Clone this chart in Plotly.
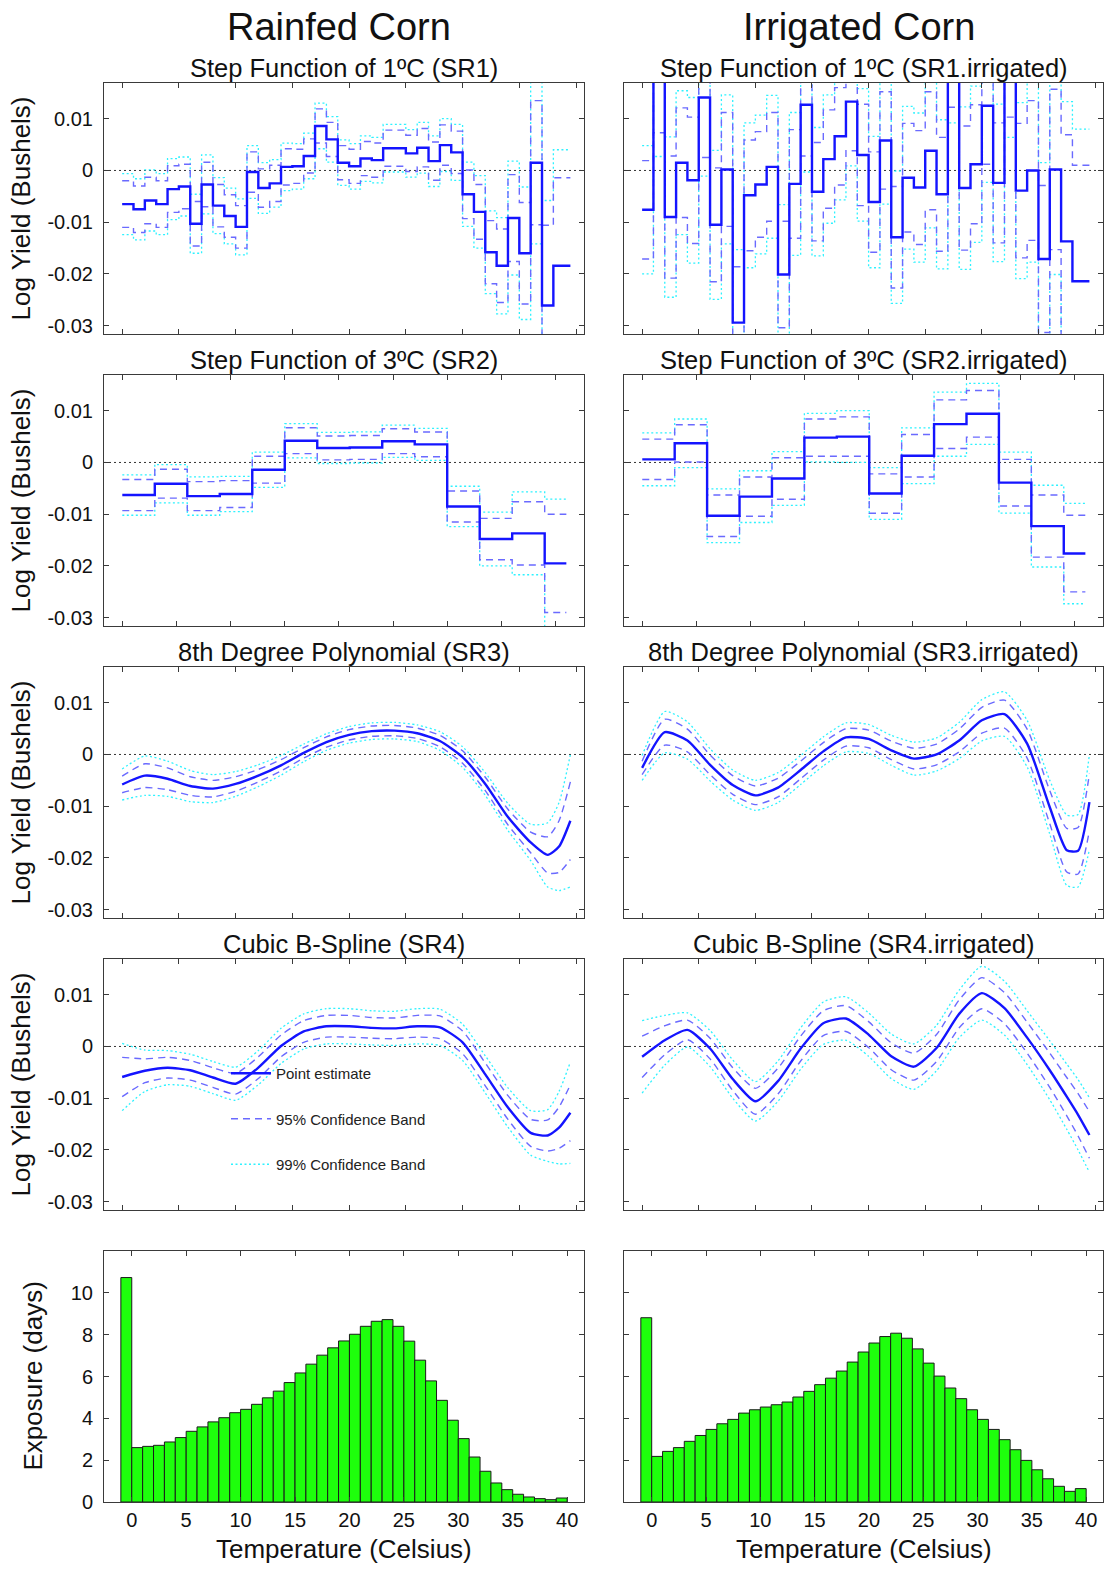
import plotly.graph_objects as go

W, H = 1110, 1570

# ---------------------------------------------------------------------------
# Data
# ---------------------------------------------------------------------------
# 1 degree step function (SR1): bin edges and estimates
step1_edges = [*range(39), 39.5]
sr1_rain = [-0.0065, -0.0075, -0.0058, -0.0065, -0.0036, -0.0031, -0.0103, -0.0027, -0.0068, -0.0088,
            -0.0109, -0.0003, -0.0034, -0.0025, 0.0007, 0.0008, 0.0028, 0.0086, 0.0060, 0.0015,
            0.0008, 0.0023, 0.0020, 0.0043, 0.0043, 0.0033, 0.0044, 0.0018, 0.0049, 0.0035,
            -0.0046, -0.0080, -0.0158, -0.0184, -0.0092, -0.0160, 0.0015, -0.0261, -0.0184]
sr1_rain_ci95 = [0.0045, 0.0045, 0.0045, 0.0045, 0.0045, 0.0043, 0.0043, 0.0043, 0.0041, 0.0041,
                 0.0041, 0.0039, 0.0037, 0.0035, 0.0035, 0.0033, 0.0033, 0.0033, 0.0033, 0.0033,
                 0.0033, 0.0033, 0.0033, 0.0035, 0.0035, 0.0035, 0.0037, 0.0037, 0.0039, 0.0041,
                 0.0047, 0.0053, 0.0061, 0.0071, 0.0084, 0.0098, 0.0120, 0.0155, 0.0170]
sr1_rain_ci99 = [0.0059, 0.0059, 0.0059, 0.0059, 0.0059, 0.0057, 0.0057, 0.0057, 0.0054, 0.0054,
                 0.0054, 0.0051, 0.0049, 0.0046, 0.0046, 0.0044, 0.0044, 0.0044, 0.0044, 0.0044,
                 0.0044, 0.0044, 0.0044, 0.0046, 0.0046, 0.0046, 0.0049, 0.0049, 0.0051, 0.0054,
                 0.0062, 0.0070, 0.0080, 0.0093, 0.0110, 0.0128, 0.0157, 0.0203, 0.0224]

sr1_irr = [-0.0076, 0.0220, -0.0090, 0.0015, -0.0019, 0.0141, -0.0105, 0.0002, -0.0294, -0.0048,
           -0.0027, 0.0007, -0.0201, -0.0026, 0.0127, -0.0041, 0.0022, 0.0066, 0.0133, 0.0030,
           -0.0061, 0.0058, -0.0129, -0.0014, -0.0033, 0.0038, -0.0046, 0.0220, -0.0034, 0.0012,
           0.0125, -0.0024, 0.0230, -0.0039, 0.0000, -0.0171, 0.0002, -0.0137, -0.0214]
sr1_irr_ci95 = [0.0095, 0.0147, 0.0118, 0.0106, 0.0122, 0.0116, 0.0110, 0.0110, 0.0108, 0.0107,
                0.0102, 0.0105, 0.0103, 0.0105, 0.0099, 0.0095, 0.0095, 0.0094, 0.0095, 0.0098,
                0.0097, 0.0094, 0.0098, 0.0105, 0.0110, 0.0114, 0.0110, 0.0098, 0.0120, 0.0115,
                0.0113, 0.0116, 0.0127, 0.0130, 0.0135, 0.0142, 0.0155, 0.0206, 0.0224]
sr1_irr_ci99 = [0.0124, 0.0193, 0.0155, 0.0139, 0.0160, 0.0152, 0.0144, 0.0144, 0.0141, 0.0140,
                0.0134, 0.0138, 0.0135, 0.0138, 0.0130, 0.0124, 0.0124, 0.0123, 0.0124, 0.0128,
                0.0127, 0.0123, 0.0128, 0.0138, 0.0144, 0.0149, 0.0144, 0.0128, 0.0157, 0.0151,
                0.0148, 0.0152, 0.0166, 0.0170, 0.0177, 0.0186, 0.0203, 0.0270, 0.0294]

# 3 degree step function (SR2)
step3_edges = [0, 3, 6, 9, 12, 15, 18, 21, 24, 27, 30, 33, 36, 39, 41]
sr2_rain = [-0.0063, -0.0041, -0.0065, -0.0061, -0.0014, 0.0042, 0.0028, 0.0029, 0.0041, 0.0035,
            -0.0085, -0.0148, -0.0137, -0.0195]
sr2_rain_ci95 = [0.0030, 0.0028, 0.0028, 0.0026, 0.0026, 0.0025, 0.0023, 0.0023, 0.0024, 0.0024,
                 0.0030, 0.0040, 0.0061, 0.0095]
sr2_rain_ci99 = [0.0039, 0.0037, 0.0037, 0.0034, 0.0034, 0.0033, 0.0030, 0.0030, 0.0031, 0.0031,
                 0.0039, 0.0052, 0.0080, 0.0124]
sr2_irr = [0.0006, 0.0037, -0.0103, -0.0066, -0.0031, 0.0048, 0.0050, -0.0060, 0.0013, 0.0074,
           0.0094, -0.0039, -0.0123, -0.0176]
sr2_irr_ci95 = [0.0039, 0.0036, 0.0040, 0.0038, 0.0040, 0.0036, 0.0038, 0.0038, 0.0041, 0.0047,
                0.0045, 0.0045, 0.0060, 0.0074]
sr2_irr_ci99 = [0.0051, 0.0047, 0.0052, 0.0050, 0.0052, 0.0047, 0.0050, 0.0050, 0.0054, 0.0062,
                0.0059, 0.0059, 0.0079, 0.0097]

# Smooth fits (SR3 polynomial, SR4 B-spline) evaluated on a temperature grid
temp_grid = [0, 2, 4, 6, 8, 10, 12, 14, 16, 18, 20, 22, 24, 26, 28, 30, 32, 34, 36, 37.5, 38.5, 39.5]

sr3_rain = [-0.0058, -0.0041, -0.0047, -0.0061, -0.0066, -0.0057, -0.0041, -0.0021, 0.0003, 0.0024,
            0.0038, 0.0045, 0.0046, 0.0041, 0.0026, -0.0005, -0.0057, -0.0121, -0.0170, -0.0194,
            -0.0178, -0.0128]
sr3_rain_ci95 = [0.0016, 0.0023, 0.0021, 0.0018, 0.0016, 0.0014, 0.0012, 0.0011, 0.0010, 0.0010,
                 0.0010, 0.0010, 0.0010, 0.0010, 0.0011, 0.0012, 0.0013, 0.0015, 0.0020, 0.0035,
                 0.0050, 0.0075]
sr3_rain_ci99 = [0.0030, 0.0038, 0.0034, 0.0030, 0.0027, 0.0024, 0.0021, 0.0019, 0.0017, 0.0016,
                 0.0016, 0.0016, 0.0016, 0.0016, 0.0018, 0.0020, 0.0022, 0.0026, 0.0035, 0.0062,
                 0.0085, 0.0128]

sr3_irr = [-0.0026, 0.0043, 0.0027, -0.0020, -0.0059, -0.0079, -0.0064, -0.0030, 0.0006, 0.0033,
           0.0030, 0.0008, -0.0008, 0.0000, 0.0027, 0.0066, 0.0078, 0.0021, -0.0102, -0.0185,
           -0.0186, -0.0092]
sr3_irr_ci95 = [0.0013, 0.0025, 0.0022, 0.0019, 0.0018, 0.0018, 0.0018, 0.0017, 0.0017, 0.0017,
                0.0017, 0.0018, 0.0020, 0.0020, 0.0022, 0.0025, 0.0027, 0.0028, 0.0032, 0.0042,
                0.0045, 0.0055]
sr3_irr_ci99 = [0.0024, 0.0040, 0.0036, 0.0031, 0.0029, 0.0029, 0.0029, 0.0028, 0.0028, 0.0028,
                0.0028, 0.0029, 0.0032, 0.0032, 0.0035, 0.0040, 0.0043, 0.0045, 0.0052, 0.0068,
                0.0070, 0.0092]

sr4_rain = [-0.0059, -0.0047, -0.0041, -0.0046, -0.0060, -0.0072, -0.0041, 0.0001, 0.0029, 0.0039,
            0.0039, 0.0036, 0.0035, 0.0039, 0.0037, 0.0008, -0.0054, -0.0118, -0.0167, -0.0172,
            -0.0157, -0.0128]
sr4_rain_ci95 = [0.0038, 0.0023, 0.0020, 0.0019, 0.0019, 0.0020, 0.0021, 0.0021, 0.0021, 0.0021,
                 0.0021, 0.0020, 0.0020, 0.0021, 0.0022, 0.0022, 0.0022, 0.0023, 0.0026, 0.0030,
                 0.0040, 0.0054]
sr4_rain_ci99 = [0.0065, 0.0040, 0.0033, 0.0031, 0.0031, 0.0032, 0.0033, 0.0034, 0.0034, 0.0034,
                 0.0034, 0.0033, 0.0033, 0.0034, 0.0035, 0.0035, 0.0036, 0.0038, 0.0043, 0.0050,
                 0.0070, 0.0098]

sr4_irr = [-0.0020, 0.0012, 0.0032, -0.0004, -0.0063, -0.0106, -0.0067, -0.0004, 0.0045, 0.0054,
           0.0023, -0.0019, -0.0039, -0.0003, 0.0063, 0.0103, 0.0074, 0.0017, -0.0046, -0.0097,
           -0.0132, -0.0171]
sr4_irr_ci95 = [0.0040, 0.0028, 0.0019, 0.0020, 0.0022, 0.0025, 0.0025, 0.0024, 0.0024, 0.0025,
                0.0025, 0.0026, 0.0026, 0.0026, 0.0027, 0.0030, 0.0030, 0.0030, 0.0033, 0.0037,
                0.0041, 0.0045]
sr4_irr_ci99 = [0.0070, 0.0048, 0.0033, 0.0035, 0.0037, 0.0038, 0.0039, 0.0040, 0.0041, 0.0042,
                0.0042, 0.0043, 0.0044, 0.0044, 0.0046, 0.0052, 0.0052, 0.0052, 0.0057, 0.0063,
                0.0068, 0.0072]

# Exposure histogram: 1 degree bins, first bin is everything below 0C
exposure_bins = [-0.5 + i for i in range(41)]
exposure_rain = [10.73, 2.60, 2.66, 2.71, 2.87, 3.08, 3.38, 3.59, 3.83, 4.03, 4.27, 4.43, 4.67, 4.98,
                 5.30, 5.71, 6.17, 6.59, 7.02, 7.37, 7.70, 8.02, 8.40, 8.64, 8.72, 8.40, 7.69, 6.78,
                 5.79, 4.86, 3.91, 3.03, 2.15, 1.47, 0.91, 0.59, 0.37, 0.24, 0.16, 0.11, 0.19]
exposure_irr = [8.81, 2.18, 2.42, 2.60, 2.90, 3.18, 3.47, 3.74, 3.95, 4.25, 4.41, 4.54, 4.65, 4.78,
                5.02, 5.29, 5.61, 5.92, 6.26, 6.69, 7.17, 7.60, 7.91, 8.07, 7.83, 7.32, 6.64, 6.02,
                5.45, 4.94, 4.41, 3.95, 3.47, 2.98, 2.50, 1.99, 1.54, 1.11, 0.75, 0.51, 0.64]

col_titles = ["Rainfed Corn", "Irrigated Corn"]
panel_titles = [
    ["Step Function of 1ºC (SR1)", "Step Function of 1ºC (SR1.irrigated)"],
    ["Step Function of 3ºC (SR2)", "Step Function of 3ºC (SR2.irrigated)"],
    ["8th Degree Polynomial (SR3)", "8th Degree Polynomial (SR3.irrigated)"],
    ["Cubic B-Spline (SR4)", "Cubic B-Spline (SR4.irrigated)"],
]
yield_ticks = [0.01, 0, -0.01, -0.02, -0.03]
yield_ticktext = ["0.01", "0", "-0.01", "-0.02", "-0.03"]
temp_ticks = [0, 5, 10, 15, 20, 25, 30, 35, 40]
exposure_ticks = [0, 2, 4, 6, 8, 10]

# ---------------------------------------------------------------------------
# Styling / layout helpers
# ---------------------------------------------------------------------------
FONT = "Liberation Sans, Arial, Helvetica, sans-serif"
PT_COLOR = "#1414ff"
C95_COLOR = "#6a6aff"
C99_COLOR = "#2ef2ff"
FRAME = "#3a3a3a"
TEXT = "#111111"

COL_X = [(104, 584), (624, 1103)]
ROW_TOP = [83, 375, 667, 959, 1251]
PANEL_H = 251
Y_RANGE = [-0.0316, 0.0169]
X_RANGE = [-1.6, 40.7]          # 1C steps and smooth fits
X_RANGE_SR2 = [-1.69, 42.63]    # 3C steps
HIST_X_RANGE = [-2.55, 41.55]

fig = go.Figure()
layout = dict(
    width=W, height=H, autosize=False,
    margin=dict(l=0, r=0, t=0, b=0, pad=0, autoexpand=False),
    paper_bgcolor="white", plot_bgcolor="white",
    font=dict(family=FONT, color=TEXT),
    showlegend=True,
    legend=dict(x=226 / W, y=1 - 1057 / H, xanchor="left", yanchor="top",
                bgcolor="rgba(0,0,0,0)", font=dict(size=15, color="#222222"),
                traceorder="grouped", tracegroupgap=23, itemwidth=40),
)
annotations = []
shapes = []


def axis_ids(row, col):
    k = row * 2 + col + 1
    return k, ("x" if k == 1 else f"x{k}"), ("y" if k == 1 else f"y{k}")


def add_axes(row, col, xrange, xlabels, yticks, ytext, yrange):
    k, xa, ya = axis_ids(row, col)
    x0, x1 = COL_X[col]
    top = ROW_TOP[row]
    common = dict(showline=True, linecolor=FRAME, linewidth=1, mirror="ticks",
                  ticks="inside", ticklen=5, tickcolor=FRAME, tickwidth=1,
                  showgrid=False, zeroline=False, fixedrange=True, automargin=False,
                  tickfont=dict(size=20, color=TEXT, family=FONT))
    layout["xaxis" if k == 1 else f"xaxis{k}"] = dict(
        common, domain=[x0 / W, x1 / W], anchor=ya, range=xrange,
        tickmode="array", tickvals=temp_ticks, ticktext=[str(t) for t in temp_ticks],
        showticklabels=xlabels)
    layout["yaxis" if k == 1 else f"yaxis{k}"] = dict(
        common, domain=[1 - (top + PANEL_H) / H, 1 - top / H], anchor=xa, range=yrange,
        tickmode="array", tickvals=yticks, ticktext=ytext, showticklabels=(col == 0),
        ticklabelstandoff=6)
    return xa, ya


def add_fit(row, col, xs, est, ci95, ci99, shape, xrange=X_RANGE, first=False):
    xa, ya = add_axes(row, col, xrange, False, yield_ticks, yield_ticktext, Y_RANGE)
    if shape == "hv":
        est = list(est) + [est[-1]]
        ci95 = list(ci95) + [ci95[-1]]
        ci99 = list(ci99) + [ci99[-1]]
        line_shape = dict(shape="hv")
    else:
        line_shape = dict(shape="spline", smoothing=0.6)
    lo95 = [e - c for e, c in zip(est, ci95)]
    hi95 = [e + c for e, c in zip(est, ci95)]
    lo99 = [e - c for e, c in zip(est, ci99)]
    hi99 = [e + c for e, c in zip(est, ci99)]
    # zero reference
    shapes.append(dict(type="line", xref=f"{xa} domain", yref=ya, x0=0, x1=1, y0=0, y1=0,
                       line=dict(color="#333333", width=1, dash="2px,3px"), layer="below"))
    for ys, name, grp, color, width, dash, show in [
        (lo99, "99% Confidence Band", "c99", C99_COLOR, 1.3, "2px,2.5px", False),
        (hi99, "99% Confidence Band", "c99", C99_COLOR, 1.3, "2px,2.5px", first),
        (lo95, "95% Confidence Band", "c95", C95_COLOR, 1.4, "7px,5px", False),
        (hi95, "95% Confidence Band", "c95", C95_COLOR, 1.4, "7px,5px", first),
        (est, "Point estimate", "pt", PT_COLOR, 2.4, "solid", first),
    ]:
        fig.add_trace(go.Scatter(
            x=xs, y=ys, mode="lines", name=name, legendgroup=grp, showlegend=show,
            legendrank={"pt": 1, "c95": 2, "c99": 3}[grp],
            line=dict(color=color, width=width, dash=dash, **line_shape),
            xaxis=xa, yaxis=ya, hoverinfo="skip"))


def add_hist(col, counts):
    xa, ya = add_axes(4, col, HIST_X_RANGE, True, exposure_ticks,
                      [str(t) for t in exposure_ticks], [0, 12])
    fig.add_trace(go.Bar(
        x=exposure_bins, y=counts, width=1,
        marker=dict(color="#1eff0c", line=dict(color="#1a1a1a", width=1)),
        showlegend=False, xaxis=xa, yaxis=ya, hoverinfo="skip"))


# ---------------------------------------------------------------------------
# Panels
# ---------------------------------------------------------------------------
add_fit(0, 0, step1_edges, sr1_rain, sr1_rain_ci95, sr1_rain_ci99, "hv")
add_fit(0, 1, step1_edges, sr1_irr, sr1_irr_ci95, sr1_irr_ci99, "hv")
add_fit(1, 0, step3_edges, sr2_rain, sr2_rain_ci95, sr2_rain_ci99, "hv", xrange=X_RANGE_SR2)
add_fit(1, 1, step3_edges, sr2_irr, sr2_irr_ci95, sr2_irr_ci99, "hv", xrange=X_RANGE_SR2)
add_fit(2, 0, temp_grid, sr3_rain, sr3_rain_ci95, sr3_rain_ci99, "spline")
add_fit(2, 1, temp_grid, sr3_irr, sr3_irr_ci95, sr3_irr_ci99, "spline")
add_fit(3, 0, temp_grid, sr4_rain, sr4_rain_ci95, sr4_rain_ci99, "spline", first=True)
add_fit(3, 1, temp_grid, sr4_irr, sr4_irr_ci95, sr4_irr_ci99, "spline")
add_hist(0, exposure_rain)
add_hist(1, exposure_irr)

# ---------------------------------------------------------------------------
# Text
# ---------------------------------------------------------------------------
for col, title in enumerate(col_titles):
    cx = (sum(COL_X[col]) / 2 - 5) / W
    annotations.append(dict(text=title, x=cx, y=1 - 27 / H, xref="paper", yref="paper",
                            xanchor="center", yanchor="middle", showarrow=False,
                            font=dict(size=38, color=TEXT, family=FONT)))

for row in range(4):
    for col in range(2):
        cx = sum(COL_X[col]) / 2 / W
        annotations.append(dict(text=panel_titles[row][col], x=cx, y=1 - (ROW_TOP[row] - 15) / H,
                                xref="paper", yref="paper", xanchor="center", yanchor="middle",
                                showarrow=False, font=dict(size=25.5, color=TEXT, family=FONT)))
    annotations.append(dict(text="Log Yield (Bushels)", x=20 / W,
                            y=1 - (ROW_TOP[row] + PANEL_H / 2) / H, xref="paper", yref="paper",
                            xanchor="center", yanchor="middle", textangle=-90, showarrow=False,
                            font=dict(size=26, color=TEXT, family=FONT)))

annotations.append(dict(text="Exposure (days)", x=32 / W, y=1 - (ROW_TOP[4] + PANEL_H / 2) / H,
                        xref="paper", yref="paper", xanchor="center", yanchor="middle",
                        textangle=-90, showarrow=False,
                        font=dict(size=26, color=TEXT, family=FONT)))
for col in range(2):
    annotations.append(dict(text="Temperature (Celsius)", x=sum(COL_X[col]) / 2 / W,
                            y=1 - 1549 / H, xref="paper", yref="paper", xanchor="center",
                            yanchor="middle", showarrow=False,
                            font=dict(size=26, color=TEXT, family=FONT)))

layout["annotations"] = annotations
layout["shapes"] = shapes
fig.update_layout(**layout)
fig.write_html("out.html")
